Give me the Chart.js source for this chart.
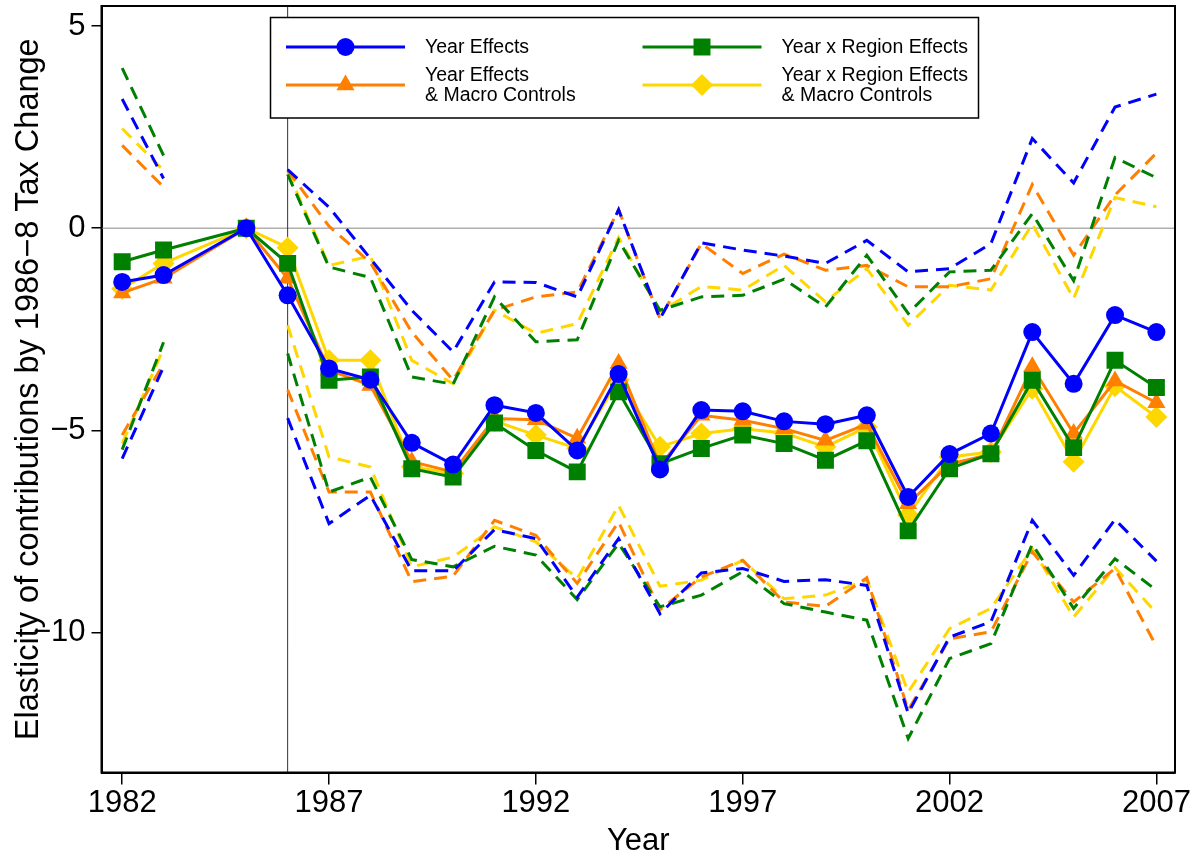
<!DOCTYPE html>
<html>
<head>
<meta charset="utf-8">
<script src="https://cdn.jsdelivr.net/npm/chart.js@4/dist/chart.umd.min.js"></script>
<style>
	html, body { margin: 0; padding: 0; background: #fff; }
	#wrap { width: 1200px; height: 859px; position: relative; }
</style>
</head>
<body>
<div id="wrap"><canvas id="elasticityChart"></canvas></div>
<script>
// Years with estimates (1984 not estimated, 1985 is the reference year)
const years = [1982, 1983, 1985, 1986, 1987, 1988, 1989, 1990, 1991, 1992, 1993, 1994, 1995,
	1996, 1997, 1998, 1999, 2000, 2001, 2002, 2003, 2004, 2005, 2006, 2007];

const xTicks = [1982, 1987, 1992, 1997, 2002, 2007];
const yTicks = [5, 0, -5, -10];

// Point estimates
const yearFx = [-1.33, -1.16, 0, -1.66, -3.47, -3.75, -5.31, -5.85, -4.38, -4.57, -5.5, -3.61, -5.97,
	-4.5, -4.53, -4.78, -4.85, -4.63, -6.65, -5.59, -5.08, -2.57, -3.85, -2.15, -2.57];
const yearMacro = [-1.6, -1.24, 0, -1.24, -3.51, -3.89, -5.78, -6.03, -4.71, -4.74, -5.2, -3.35, -5.87,
	-4.63, -4.75, -4.96, -5.25, -4.85, -6.82, -5.84, -5.59, -3.43, -5.08, -3.78, -4.32];
const regionFx = [-0.83, -0.54, 0, -0.87, -3.76, -3.68, -5.95, -6.16, -4.82, -5.5, -6.03, -4.05, -5.83,
	-5.45, -5.12, -5.33, -5.74, -5.26, -7.49, -5.95, -5.58, -3.76, -5.43, -3.27, -3.94];
const regionMacro = [-1.5, -0.87, 0, -0.48, -3.27, -3.27, -5.9, -6.07, -4.77, -5.12, -5.45, -3.75, -5.41,
	-5.08, -4.96, -5.07, -5.41, -4.92, -7.1, -5.66, -5.54, -3.97, -5.78, -3.91, -4.67];

// Confidence bands (null = no band in the reference year)
const yearFxHi = [3.2, 1.23, null, 1.45, 0.52, -0.75, -2.03, -3.06, -1.33, -1.34, -1.7, 0.46, -2.24,
	-0.36, -0.54, -0.69, -0.87, -0.3, -1.08, -1.0, -0.38, 2.22, 1.12, 3.0, 3.32];
const yearFxLo = [-5.7, -3.43, null, -4.7, -7.31, -6.61, -8.48, -8.48, -7.46, -7.68, -9.13, -7.68, -9.54,
	-8.53, -8.42, -8.74, -8.7, -8.84, -12.0, -10.12, -9.74, -7.23, -8.59, -7.21, -8.24];
const yearMacroHi = [2.05, 1.02, null, 1.43, 0.05, -0.85, -2.57, -3.76, -2.03, -1.7, -1.58, 0.46, -2.24,
	-0.38, -1.12, -0.64, -1.04, -0.92, -1.45, -1.45, -1.25, 1.08, -0.67, 0.82, 1.86];
const yearMacroLo = [-5.12, -3.35, null, -4.0, -6.53, -6.53, -8.75, -8.61, -7.23, -7.6, -8.79, -7.27, -9.44,
	-8.63, -8.22, -9.25, -9.36, -8.65, -11.93, -10.16, -9.99, -8.01, -9.25, -8.42, -10.35];
const regionFxHi = [3.96, 1.8, null, 1.33, -0.96, -1.22, -3.68, -3.86, -1.7, -2.81, -2.76, -0.3, -2.03,
	-1.7, -1.66, -1.26, -1.95, -0.67, -2.11, -1.08, -1.04, 0.36, -1.3, 1.75, 1.25];
const regionFxLo = [-5.48, -2.82, null, -3.1, -6.53, -6.16, -8.2, -8.38, -7.87, -8.09, -9.19, -7.8, -9.37,
	-9.08, -8.5, -9.29, -9.5, -9.7, -12.63, -10.65, -10.28, -7.82, -9.41, -8.18, -8.96];
const regionMacroHi = [2.47, 1.43, null, 1.4, -0.92, -0.69, -3.27, -3.85, -2.03, -2.6, -2.36, -0.23, -2.07,
	-1.44, -1.53, -0.92, -1.82, -1.0, -2.4, -1.41, -1.53, 0.1, -1.74, 0.76, 0.53];
const regionMacroLo = [-5.33, -2.97, null, -2.4, -5.66, -5.91, -8.38, -8.14, -7.39, -7.76, -8.67, -6.86, -8.86,
	-8.71, -8.22, -9.17, -9.08, -8.7, -11.48, -9.91, -9.41, -7.93, -9.62, -8.4, -9.52];

const legendLabels = [
	['Year Effects'],
	['Year x Region Effects'],
	['Year Effects', '& Macro Controls'],
	['Year x Region Effects', '& Macro Controls'],
];

const BLUE = '#0000FF';
const ORANGE = '#FF8000';
const GREEN = '#008000';
const GOLD = '#FFD700';
const FONT = "'Liberation Sans', Arial, sans-serif";

const toXY = vals => years.map((yr, i) => ({ x: yr, y: vals[i] }));

function estimate(label, vals, color, style, radius) {
	return {
		label: label,
		data: toXY(vals),
		borderColor: color,
		backgroundColor: color,
		borderWidth: 3,
		pointStyle: style,
		pointRadius: radius,
		pointBorderWidth: 0,
		tension: 0,
	};
}

function band(vals, color) {
	return {
		label: '',
		data: toXY(vals),
		borderColor: color,
		backgroundColor: color,
		borderWidth: 3,
		borderDash: [13, 8],
		pointRadius: 0,
		spanGaps: false,
		tension: 0,
	};
}

// first dataset is drawn on top
const datasets = [
	estimate('Year Effects', yearFx, BLUE, 'circle', 9),
	estimate('Year x Region Effects', regionFx, GREEN, 'rect', 12),
	estimate('Year Effects & Macro Controls', yearMacro, ORANGE, 'triangle', 10.5),
	estimate('Year x Region Effects & Macro Controls', regionMacro, GOLD, 'rectRot', 11),
	band(yearFxHi, BLUE), band(yearFxLo, BLUE),
	band(regionFxHi, GREEN), band(regionFxLo, GREEN),
	band(yearMacroHi, ORANGE), band(yearMacroLo, ORANGE),
	band(regionMacroHi, GOLD), band(regionMacroLo, GOLD),
];

// zero line and the 1986 marker line
const refLines = {
	id: 'refLines',
	beforeDatasetsDraw(chart) {
		const { ctx, chartArea: a, scales: { x, y } } = chart;
		ctx.save();
		ctx.lineWidth = 1.5;
		ctx.strokeStyle = '#b0b0b0';
		ctx.beginPath();
		ctx.moveTo(a.left, y.getPixelForValue(0));
		ctx.lineTo(a.right, y.getPixelForValue(0));
		ctx.stroke();
		ctx.lineWidth = 1;
		ctx.strokeStyle = '#333';
		ctx.beginPath();
		ctx.moveTo(x.getPixelForValue(1986), a.top);
		ctx.lineTo(x.getPixelForValue(1986), a.bottom);
		ctx.stroke();
		ctx.restore();
	}
};

function marker(ctx, style, radius, color, px, py) {
	if (Chart.helpers && Chart.helpers.drawPoint) {
		ctx.fillStyle = color;
		ctx.strokeStyle = color;
		ctx.lineWidth = 0;
		Chart.helpers.drawPoint(ctx, { pointStyle: style, radius: radius, rotation: 0, borderWidth: 0 }, px, py);
	}
}

// frame and boxed two-column legend
const frameLegend = {
	id: 'frameLegend',
	afterDatasetsDraw(chart) {
		const { ctx, chartArea: a } = chart;
		ctx.save();
		ctx.strokeStyle = '#000';
		ctx.lineWidth = 2;
		ctx.strokeRect(a.left, a.top, a.right - a.left, a.bottom - a.top);

		const box = { left: 270.5, top: 17.5, right: 978.5, bottom: 118 };
		ctx.fillStyle = '#fff';
		ctx.fillRect(box.left, box.top, box.right - box.left, box.bottom - box.top);
		ctx.lineWidth = 1.5;
		ctx.strokeRect(box.left, box.top, box.right - box.left, box.bottom - box.top);

		const cols = [286, 642.5];
		const rows = [47, 85];
		const textRows = [[47], [75, 95]];
		legendLabels.forEach((lines, i) => {
			const ds = datasets[i];
			const col = cols[i % 2];
			const row = Math.floor(i / 2);
			const ly = rows[row];
			ctx.strokeStyle = ds.borderColor;
			ctx.lineWidth = 3;
			ctx.setLineDash([]);
			ctx.beginPath();
			ctx.moveTo(col, ly);
			ctx.lineTo(col + 119, ly);
			ctx.stroke();
			marker(ctx, ds.pointStyle, ds.pointRadius, ds.borderColor, col + 59.5, ly);
			ctx.fillStyle = '#000';
			ctx.font = '19.5px ' + FONT;
			ctx.textAlign = 'left';
			ctx.textBaseline = 'middle';
			lines.forEach((t, k) => ctx.fillText(t, col + 139, textRows[row][k] + 1));
		});
		ctx.restore();
	}
};

const ctx_elasticity = document.getElementById('elasticityChart').getContext('2d');
const elasticityChart = new Chart(ctx_elasticity, {
	type: 'line',
	data: { datasets: datasets },
	options: {
		responsive: true,
		maintainAspectRatio: false,
		animation: false,
		layout: { autoPadding: false, padding: { top: 6, right: 25, left: 0, bottom: 0 } },
		scales: {
			x: {
				type: 'linear',
				min: 1981.5,
				max: 2007.45,
				afterBuildTicks: axis => { axis.ticks = xTicks.map(v => ({ value: v })); },
				afterFit: axis => {
					axis.height = 86.5;
					axis.paddingLeft = 0;
					axis.paddingRight = 0;
				},
				ticks: {
					color: '#000',
					font: { family: FONT, size: 31 },
					padding: 0,
					maxRotation: 0,
					callback: v => String(v),
				},
				grid: { drawOnChartArea: false, drawTicks: true, tickLength: 12, color: '#000', lineWidth: 1.5 },
				border: { display: true, color: '#000', width: 2 },
				title: {
					display: true,
					text: 'Year',
					color: '#000',
					font: { family: FONT, size: 31, lineHeight: 1 },
					padding: { top: 0, bottom: 2 },
				},
			},
			y: {
				type: 'linear',
				min: -13.47,
				max: 5.5,
				afterBuildTicks: axis => { axis.ticks = yTicks.map(v => ({ value: v })); },
				afterFit: axis => {
					axis.width = 101.5;
					axis.paddingTop = 0;
					axis.paddingBottom = 0;
				},
				ticks: {
					color: '#000',
					font: { family: FONT, size: 31 },
					padding: 6,
					callback: v => (v < 0 ? '\u2212' + Math.abs(v) : String(v)),
				},
				grid: { drawOnChartArea: false, drawTicks: true, tickLength: 10, color: '#000', lineWidth: 1.5 },
				border: { display: true, color: '#000', width: 2 },
				title: {
					display: true,
					text: 'Elasticity of contributions by 1986\u22128 Tax Change',
					color: '#000',
					font: { family: FONT, size: 32.5, lineHeight: 1 },
					padding: { top: 13, bottom: 0 },
				},
			},
		},
		plugins: {
			legend: { display: false },
			tooltip: { enabled: false },
			title: { display: false },
		}
	},
	plugins: [refLines, frameLegend]
});
</script>
</body>
</html>
